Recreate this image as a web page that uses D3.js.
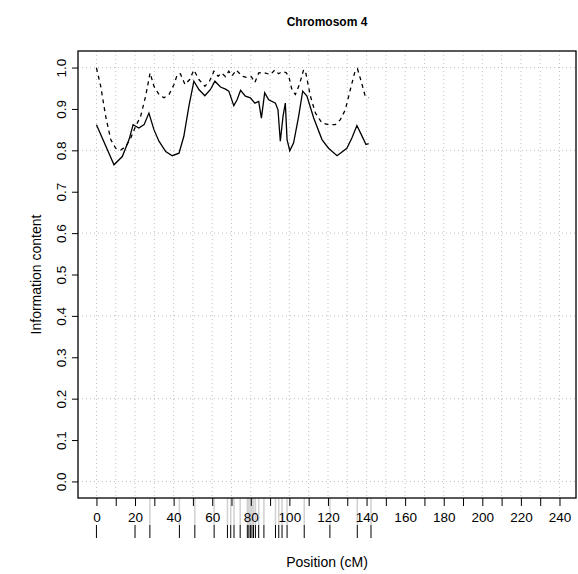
<!DOCTYPE html>
<html>
<head>
<meta charset="utf-8">
<script src="https://cdn.jsdelivr.net/npm/d3@7"></script>
<style>
  body { margin: 0; background: #fff; }
  svg { font-family: "Liberation Sans", Arial, sans-serif; }
</style>
</head>
<body>
<svg id="chart" width="578" height="574"></svg>
<script>
(function() {

  // information content, solid line
  var solidPos = [0, 9.1, 13.4, 16.9, 19, 22, 24.7, 27.2, 29.8, 32.4, 35.9, 39.3, 42.8, 45.3, 47.9, 50.5,
    53.1, 56.2, 59.1, 61.4, 64.3, 66.9, 68.6, 71.2, 72.9, 74.7, 77.2, 79.8, 82.1, 84.1, 85.5, 87.2,
    89.3, 92.8, 94.1, 95.3, 96.7, 97.9, 98.8, 100.2, 102.2, 104.8, 106.9, 109.1, 112.6, 116.9,
    120.3, 124.7, 129.8, 132.4, 135, 137.6, 139.7, 141.1]
  var solidVal = [0.862, 0.765, 0.785, 0.826, 0.862, 0.854, 0.862, 0.89, 0.85, 0.822, 0.797, 0.787, 0.793, 0.834, 0.906, 0.967,
    0.947, 0.932, 0.947, 0.967, 0.953, 0.948, 0.943, 0.908, 0.922, 0.945, 0.931, 0.927, 0.914, 0.918, 0.878, 0.939,
    0.922, 0.914, 0.898, 0.822, 0.882, 0.914, 0.826, 0.799, 0.818, 0.882, 0.943, 0.931, 0.878, 0.826,
    0.805, 0.787, 0.805, 0.83, 0.86, 0.835, 0.814, 0.816]

  // dashed line
  var dashPos = [0, 2.2, 4.8, 7.4, 10, 12.6, 15.2, 17.8, 20.3, 22.9, 25.5, 27.8, 29.8, 32.4, 35, 37.6,
    40.2, 41.9, 43.5, 45.9, 48.3, 50.5, 53.1, 56.2, 58.6, 60.9, 63.1, 64.8, 66.9, 68.6, 70.3, 72.5,
    75.5, 78.1, 80.3, 82.1, 84.1, 86.7, 90.2, 92.4, 94.4, 96.2, 98.3, 99.7, 101.3, 103.1, 105.2,
    107.4, 108.6, 110.9, 113.5, 116.9, 120.3, 123.8, 126.4, 129, 131.6, 133.8, 135.3, 137.2, 139.3, 141.1]
  var dashVal = [0.999, 0.955, 0.882, 0.826, 0.805, 0.801, 0.809, 0.83, 0.858, 0.882, 0.931, 0.987, 0.955, 0.935, 0.927, 0.935,
    0.959, 0.983, 0.985, 0.959, 0.971, 0.994, 0.971, 0.955, 0.967, 0.991, 0.979, 0.987, 0.978, 0.991, 0.98, 0.994,
    0.979, 0.976, 0.978, 0.964, 0.987, 0.988, 0.983, 0.994, 0.985, 0.99, 0.988, 0.979, 0.947, 0.935, 0.959,
    0.995, 0.985, 0.931, 0.89, 0.866, 0.862, 0.862, 0.874, 0.898, 0.947, 0.987, 0.997, 0.967, 0.931, 0.927]

  // marker positions (cM)
  var markers = [0, 20, 27.7, 43, 51, 61, 67.9, 69.6, 71.3, 74.5, 78.2, 79, 79.8, 80.6, 81.4, 82.4,
    84.1, 86.8, 92.8, 94.5, 96.2, 98.8, 107.7, 121, 135.2, 142.3]

  var xTicks = d3.range(0, 241, 10)
  var xLabels = d3.range(0, 241, 20)
  var yTicks = d3.range(0, 11).map(function(d) { return d / 10 })
  var yGrid = [0, 0.2, 0.4, 0.6, 0.8, 1.0]

  var box = { left: 78, right: 576, top: 51, bottom: 498 }

  var svg = d3.select("#chart")

  // R style 4% padding
  var xlim = [0, 239], ylim = [0, 1]
  var xpad = (xlim[1] - xlim[0]) * 0.04, ypad = (ylim[1] - ylim[0]) * 0.04

  var xPositionScale = d3.scaleLinear()
    .domain([xlim[0] - xpad, xlim[1] + xpad])
    .range([box.left, box.right])

  var yPositionScale = d3.scaleLinear()
    .domain([ylim[0] - ypad, ylim[1] + ypad])
    .range([box.bottom, box.top])

  // grid
  svg.append("g")
    .selectAll("line")
    .data(xTicks)
    .enter()
    .append("line")
    .attr("x1", function(d) { return xPositionScale(d) })
    .attr("x2", function(d) { return xPositionScale(d) })
    .attr("y1", box.top)
    .attr("y2", box.bottom)
    .attr("stroke", "#c0c0c0")
    .attr("stroke-dasharray", "1,3")

  svg.append("g")
    .selectAll("line")
    .data(yGrid)
    .enter()
    .append("line")
    .attr("x1", box.left)
    .attr("x2", box.right)
    .attr("y1", function(d) { return yPositionScale(d) })
    .attr("y2", function(d) { return yPositionScale(d) })
    .attr("stroke", "#c0c0c0")
    .attr("stroke-dasharray", "1,3")

  // marker rug: grey lines under the axis, black ticks below the labels
  svg.append("g")
    .selectAll("line")
    .data(markers.filter(function(d) { return d > 25 }))
    .enter()
    .append("line")
    .attr("x1", function(d) { return xPositionScale(d) })
    .attr("x2", function(d) { return xPositionScale(d) })
    .attr("y1", box.bottom)
    .attr("y2", 525)
    .attr("stroke", "#b0b0b0")
    .attr("stroke-opacity", 0.6)
    .attr("stroke-width", 1.5)

  svg.append("g")
    .selectAll("line")
    .data(markers)
    .enter()
    .append("line")
    .attr("x1", function(d) { return xPositionScale(d) })
    .attr("x2", function(d) { return xPositionScale(d) })
    .attr("y1", 525)
    .attr("y2", 538)
    .attr("stroke", "#000")
    .attr("stroke-width", 1)

  // axes
  var xAxis = d3.axisBottom(xPositionScale)
    .tickValues(xTicks)
    .tickSize(8)
    .tickFormat(function(d) { return xLabels.indexOf(d) >= 0 ? d : "" })
  svg.append("g")
    .attr("class", "axis x-axis")
    .attr("transform", "translate(0," + box.bottom + ")")
    .call(xAxis)

  var yAxis = d3.axisLeft(yPositionScale)
    .tickValues(yTicks)
    .tickSize(6)
    .tickFormat(d3.format(".1f"))
  svg.append("g")
    .attr("class", "axis y-axis")
    .attr("transform", "translate(" + box.left + ",0)")
    .call(yAxis)

  svg.selectAll(".axis .domain").remove()
  svg.selectAll(".axis line").attr("stroke", "#000")
  svg.selectAll(".axis text")
    .attr("fill", "#000")
    .style("font-size", "13.5px")
    .style("font-family", "Liberation Sans, Arial, sans-serif")
  svg.selectAll(".x-axis text").attr("y", 14)
  // rotated y labels, as R draws them
  svg.selectAll(".y-axis text")
    .attr("transform", "rotate(-90)")
    .attr("x", 0)
    .attr("y", -12)
    .attr("dx", null)
    .attr("dy", null)
    .attr("text-anchor", "middle")

  // lines
  var solidData = solidPos.map(function(p, i) { return [p, solidVal[i]] })
  var dashData = dashPos.map(function(p, i) { return [p, dashVal[i]] })
  var line = d3.line()
    .x(function(d) { return xPositionScale(d[0]) })
    .y(function(d) { return yPositionScale(d[1]) })

  svg.append("path")
    .datum(solidData)
    .attr("d", line)
    .attr("fill", "none")
    .attr("stroke", "#000")
    .attr("stroke-width", 1.3)

  svg.append("path")
    .datum(dashData)
    .attr("d", line)
    .attr("fill", "none")
    .attr("stroke", "#000")
    .attr("stroke-width", 1.3)
    .attr("stroke-dasharray", "4,4")

  // box
  svg.append("rect")
    .attr("x", box.left)
    .attr("y", box.top)
    .attr("width", box.right - box.left)
    .attr("height", box.bottom - box.top)
    .attr("fill", "none")
    .attr("stroke", "#000")
    .attr("stroke-width", 1.3)

  // titles
  svg.append("text")
    .attr("x", (box.left + box.right) / 2)
    .attr("y", 26)
    .attr("text-anchor", "middle")
    .style("font-weight", "bold")
    .style("font-size", "12px")
    .text("Chromosom 4")

  svg.append("text")
    .attr("x", (box.left + box.right) / 2)
    .attr("y", 567)
    .attr("text-anchor", "middle")
    .style("font-size", "14px")
    .text("Position (cM)")

  svg.append("text")
    .attr("transform", "translate(41," + (box.top + box.bottom) / 2 + ") rotate(-90)")
    .attr("text-anchor", "middle")
    .style("font-size", "14px")
    .text("Information content")

})()
</script>
</body>
</html>
